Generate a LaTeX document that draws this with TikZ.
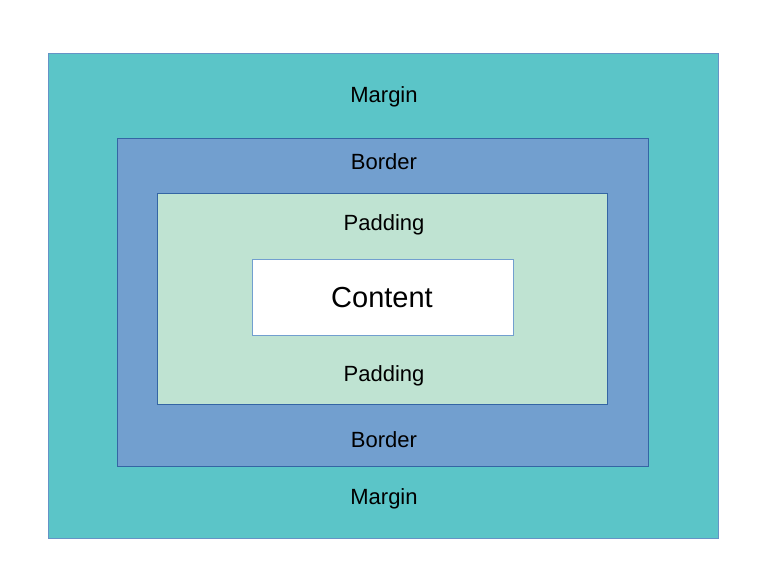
\documentclass[tikz,border=0pt]{standalone}
\usepackage{fontspec}
\setmainfont{Liberation Sans}
\definecolor{marginteal}{RGB}{91,197,200}
\definecolor{borderblue}{RGB}{114,159,207}
\definecolor{paddinggreen}{RGB}{191,227,210}
\definecolor{edgeblue}{RGB}{52,101,164}
\begin{document}
\begin{tikzpicture}[x=1pt,y=-1pt,
  boxlayer/.style={draw=edgeblue,line width=0.8pt},
  boxlabel/.style={font=\fontsize{22}{25}\selectfont,inner sep=0},
  contentlabel/.style={font=\fontsize{29}{33}\selectfont,inner sep=0}]
\useasboundingbox (0,0) rectangle (765,585);

\draw[boxlayer,draw=borderblue!80!edgeblue,fill=marginteal] (48,53) rectangle (718,538);
\draw[boxlayer,fill=borderblue] (117,138) rectangle (648,466);
\draw[boxlayer,fill=paddinggreen] (157,193) rectangle (607,404);
\draw[boxlayer,draw=borderblue,fill=white] (252,259) rectangle (513,335);

\node[boxlabel] (MT) at (384,97) {Margin};
\node[boxlabel] (BT) at (384,162) {Border};
\node[boxlabel] (PT) at (384,225) {Padding};
\node[contentlabel] (C) at (382,298) {Content};
\node[boxlabel] (PB) at (384,376) {Padding};
\node[boxlabel] (BB) at (384,440) {Border};
\node[boxlabel] (MB) at (384,499) {Margin};
\end{tikzpicture}
\end{document}
